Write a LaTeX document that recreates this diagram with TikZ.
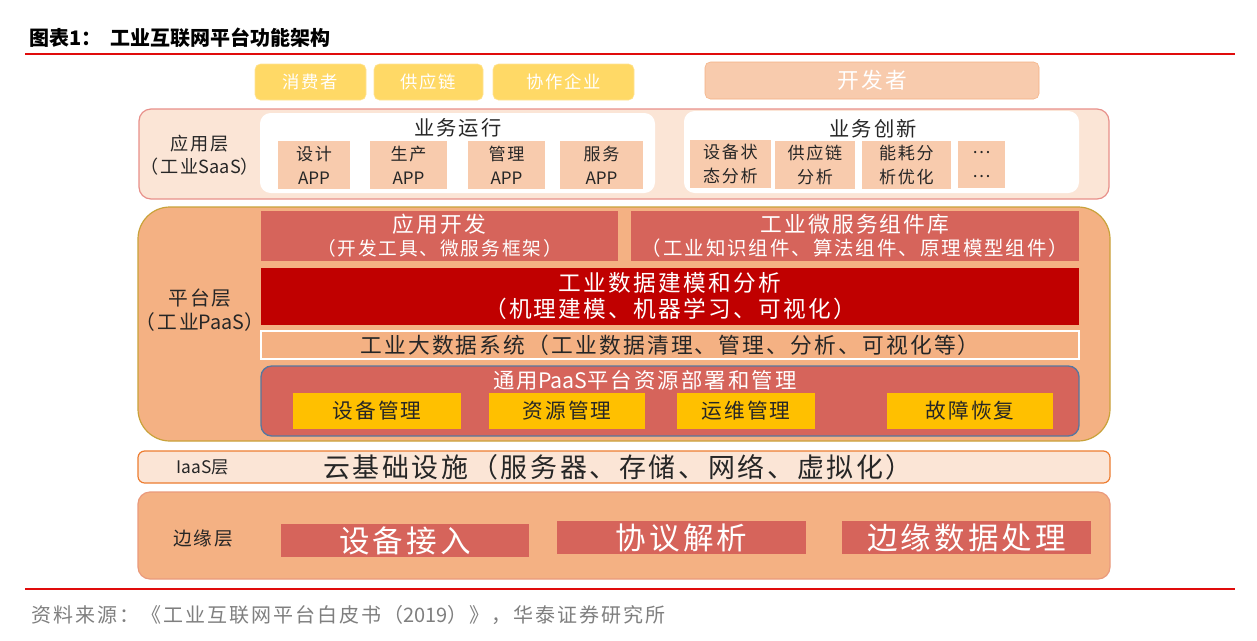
\documentclass[tikz,border=0pt]{standalone}
\usepackage{fontspec}
\setmainfont{Noto Sans CJK SC}
\newfontfamily\cjk[LetterSpace=10]{Noto Sans CJK SC}
\newfontfamily\cjkt{Noto Sans CJK SC}
\usetikzlibrary{fit}
\definecolor{ylwtop}{HTML}{FFD966}
\definecolor{peach}{HTML}{F8CBAD}
\definecolor{peachdk}{HTML}{F4B183}
\definecolor{pale}{HTML}{FBE5D6}
\definecolor{pinkedge}{HTML}{E8908A}
\definecolor{goldedge}{HTML}{C9A23A}
\definecolor{brick}{HTML}{D6645B}
\definecolor{deepred}{HTML}{C00000}
\definecolor{amber}{HTML}{FFC000}
\definecolor{blueedge}{HTML}{5677A0}
\definecolor{orangeedge}{HTML}{ED7D31}
\definecolor{edgeedge}{HTML}{EA9A7C}
\definecolor{rule}{HTML}{E00C0C}
\definecolor{txtdk}{HTML}{262626}
\definecolor{srcgray}{HTML}{7F7F7F}
\tikzset{
  fs/.style n args={2}{font=\cjk\fontsize{#1}{#2}\selectfont},
  bx/.style={inner sep=0pt},
  tx/.style={inner sep=0pt, align=center},
  ybox/.style={bx, rounded corners=4pt, fill=ylwtop, draw=ylwtop!70!white},
  ytxt/.style={tx, text=white, fs={13}{15}},
  devbox/.style={bx, rounded corners=4pt, fill=peach, draw=peachdk},
  layer/.style={bx, rounded corners=9pt, fill=pale, draw=pinkedge, line width=0.9pt},
  inner/.style={bx, rounded corners=8pt, fill=white},
  appbox/.style={bx, fill=peach},
  apptxt/.style={tx, text=txtdk, fs={12.8}{18}},
  redbox/.style={bx, fill=brick},
  ambbox/.style={bx, fill=amber},
  ambtxt/.style={tx, text=txtdk, fs={15.5}{17}},
  edgetxt/.style={tx, text=white, fs={22.9}{25}},
  lbl/.style={tx, text=txtdk},
  ruleline/.style={draw=rule, line width=1.6pt}
}
\begin{document}
\begin{tikzpicture}[x=0.75pt,y=-0.75pt]
\useasboundingbox (0,0) rectangle (1257,640);
\fill[white] (0,0) rectangle (1257,640);

% title
\node[anchor=west, font=\cjkt\bfseries\fontsize{15}{18}\selectfont, inner sep=0pt] (title) at (29,38) {图表1：\hspace{7pt}工业互联网平台功能架构};
\coordinate (r1a) at (25,54); \coordinate (r1b) at (1235,54);
\draw[ruleline] (r1a) -- (r1b);

% top actors
\node[ybox, fit={(255,64)(366,100)}] (c1) {};
\node[ytxt] (c1t) at (c1) {消费者};
\node[ybox, fit={(374,64)(483,100)}] (c2) {};
\node[ytxt] (c2t) at (c2) {供应链};
\node[ybox, fit={(493,64)(634,100)}] (c3) {};
\node[ytxt] (c3t) at (c3) {协作企业};
\node[devbox, fit={(705,62)(1039,99)}] (dev) {};
\node[tx, text=white, fs={16.3}{18}] (devt) at (dev) {开发者};

% application layer
\node[layer, fit={(139,109)(1109,199)}] (app) {};
\node[lbl, fs={13.6}{17}] (applbl) at (200,155) {应用层\\（工业{\cjkt SaaS}）};
\node[inner, fit={(260,113)(655,193)}] (run) {};
\node[lbl, fs={15.2}{17}] (runt) at (458,128) {业务运行};
\node[appbox, fit={(278,141)(350,189)}] (a1) {};
\node[apptxt] (a1t) at (a1) {设计\\{\cjkt APP}};
\node[appbox, fit={(370,141)(447,189)}] (a2) {};
\node[apptxt] (a2t) at (a2) {生产\\{\cjkt APP}};
\node[appbox, fit={(468,141)(545,189)}] (a3) {};
\node[apptxt] (a3t) at (a3) {管理\\{\cjkt APP}};
\node[appbox, fit={(560,141)(643,189)}] (a4) {};
\node[apptxt] (a4t) at (a4) {服务\\{\cjkt APP}};
\node[inner, fit={(684,111)(1079,193)}] (inn) {};
\node[lbl, fs={15.2}{17}] (innt) at (873,129) {业务创新};
\node[appbox, fit={(690,140)(771,188)}] (b1) {};
\node[apptxt] (b1t) at (b1) {设备状\\态分析};
\node[appbox, fit={(775,141)(855,189)}] (b2) {};
\node[apptxt] (b2t) at (b2) {供应链\\分析};
\node[appbox, fit={(862,141)(951,189)}] (b3) {};
\node[apptxt] (b3t) at (b3) {能耗分\\析优化};
\node[appbox, fit={(958,141)(1005,188)}] (b4) {};
\node[apptxt] (b4t) at (b4) {…\\…};

% platform layer
\node[bx, rounded corners=24pt, fill=peachdk, draw=goldedge, line width=0.9pt, fit={(138,207)(1110,441)}] (plat) {};
\node[lbl, fs={14.8}{18}] (platlbl) at (200,310) {平台层\\（工业{\cjkt PaaS}）};
\node[redbox, fit={(261,211)(618,261)}] (dev1) {};
\node[tx, text=white, fs={16.3}{17.5}] (dev1t) at (dev1) {应用开发\\{\fontsize{14}{15}\selectfont（开发工具、微服务框架）}};
\node[redbox, fit={(631,211)(1079,261)}] (dev2) {};
\node[tx, text=white, fs={16.3}{17.5}] (dev2t) at (dev2) {工业微服务组件库\\{\fontsize{14.6}{15}\selectfont（工业知识组件、算法组件、原理模型组件）}};
\node[bx, fill=deepred, fit={(261,268)(1079,325)}] (model) {};
\node[tx, text=white, fs={17}{19.5}] (modelt) at (model) {工业数据建模和分析\\（机理建模、机器学习、可视化）};
\node[bx, fill=peachdk, draw=white, line width=1pt, fit={(261,331)(1079,359)}] (bigdata) {};
\node[tx, text=txtdk, fs={16.3}{17}] (bigdatat) at (bigdata) {工业大数据系统（工业数据清理、管理、分析、可视化等）};
\node[bx, rounded corners=8pt, fill=brick, draw=blueedge, line width=1pt, fit={(261,366)(1079,436)}] (paas) {};
\node[tx, text=white, fs={16}{17}] (paast) at (645,380) {通用{\cjkt PaaS}平台资源部署和管理};
\node[ambbox, fit={(293,393)(461,429)}] (m1) {};
\node[ambtxt] (m1t) at (m1) {设备管理};
\node[ambbox, fit={(489,393)(645,429)}] (m2) {};
\node[ambtxt] (m2t) at (m2) {资源管理};
\node[ambbox, fit={(677,393)(815,429)}] (m3) {};
\node[ambtxt] (m3t) at (m3) {运维管理};
\node[ambbox, fit={(887,393)(1053,429)}] (m4) {};
\node[ambtxt] (m4t) at (m4) {故障恢复};

% IaaS
\node[bx, rounded corners=5pt, fill=pale, draw=orangeedge, line width=0.9pt, fit={(138,451)(1110,483)}] (iaas) {};
\node[lbl, fs={13}{14}] (iaaslbl) at (203,467) {{\cjkt IaaS}层};
\node[lbl, fs={20.2}{21}] (cloud) at (618,467) {云基础设施（服务器、存储、网络、虚拟化）};

% edge layer
\node[bx, rounded corners=9pt, fill=peachdk, draw=edgeedge, line width=0.9pt, fit={(138,492)(1110,579)}] (edge) {};
\node[lbl, fs={14}{15}] (edgelbl) at (203,538) {边缘层};
\node[redbox, fit={(281,524)(529,557)}] (e1) {};
\node[edgetxt] (e1t) at (e1) {设备接入};
\node[redbox, fit={(557,521)(806,554)}] (e2) {};
\node[edgetxt] (e2t) at (e2) {协议解析};
\node[redbox, fit={(842,521)(1091,554)}] (e3) {};
\node[edgetxt] (e3t) at (e3) {边缘数据处理};

% footer
\coordinate (r2a) at (25,589); \coordinate (r2b) at (1235,589);
\draw[ruleline] (r2a) -- (r2b);
\node[anchor=west, inner sep=0pt, text=srcgray, fs={15}{16}] (src) at (31,615) {资料来源：《工业互联网平台白皮书（{\cjkt 2019}）》，华泰证券研究所};
\end{tikzpicture}
\end{document}
